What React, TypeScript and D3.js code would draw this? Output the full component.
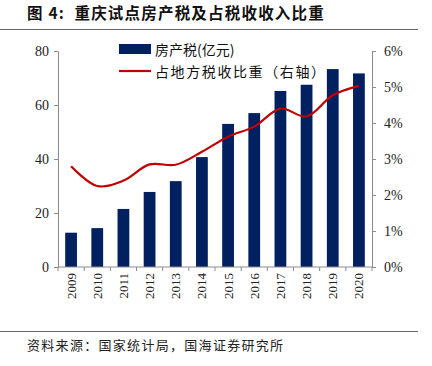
import { useEffect, useRef } from 'react';
import * as d3 from 'd3';

const years = ['2009', '2010', '2011', '2012', '2013', '2014', '2015', '2016', '2017', '2018', '2019', '2020'];
const taxValues = [12.7, 14.4, 21.5, 27.8, 31.8, 40.7, 53, 57, 65.2, 67.5, 73.3, 71.7];
const shareValues = [2.8, 2.25, 2.4, 2.85, 2.84, 3.2, 3.62, 3.9, 4.4, 4.18, 4.77, 5.03];
const leftTicks = [0, 20, 40, 60, 80];
const rightTicks = [0, 1, 2, 3, 4, 5, 6];

const W = 432;
const H = 366;
const SERIF = '"Liberation Serif", "Times New Roman", serif';
const CJK = '"Noto Sans CJK SC", sans-serif';
const AXIS = '#8c8c8c';
const BAR = '#002060';
const LINE = '#c00000';

export default function App() {
  const svgRef = useRef<SVGSVGElement>(null);

  useEffect(() => {
    document.body.style.margin = '0';
    if (!svgRef.current) return;
    const svg = d3.select(svgRef.current);
    svg.selectAll('*').remove();

    const plot = { left: 58, right: 372, top: 51, bottom: 267 };

    const x = d3.scaleBand().domain(years).range([plot.left, plot.right]).paddingInner(0.55).paddingOuter(0.275);
    const yL = d3.scaleLinear().domain([0, 80]).range([plot.bottom, plot.top]);
    const yR = d3.scaleLinear().domain([0, 6]).range([plot.bottom, plot.top]);

    // title
    svg.append('text')
      .attr('x', 27).attr('y', 19)
      .attr('font-family', CJK).attr('font-weight', 'bold').attr('font-size', 15.5)
      .attr('letter-spacing', 1.2)
      .attr('fill', '#111')
      .style('white-space', 'pre')
      .text('图 4:  重庆试点房产税及占税收收入比重');
    svg.append('line').attr('x1', 0).attr('x2', 418).attr('y1', 29.5).attr('y2', 29.5)
      .attr('stroke', '#666').attr('stroke-width', 1);

    // bars
    svg.append('g').selectAll('rect')
      .data(years)
      .join('rect')
      .attr('x', (d) => x(d) || 0)
      .attr('y', (_, i) => yL(taxValues[i]))
      .attr('width', x.bandwidth())
      .attr('height', (_, i) => plot.bottom - yL(taxValues[i]))
      .attr('fill', BAR);

    // line
    const line = d3.line<number>()
      .x((_, i) => (x(years[i]) || 0) + x.bandwidth() / 2)
      .y((d) => yR(d))
      .curve(d3.curveCatmullRom.alpha(0.5));
    svg.append('path')
      .attr('d', line(shareValues) || '')
      .attr('fill', 'none')
      .attr('stroke', LINE)
      .attr('stroke-width', 2.2);

    // left axis
    const gl = svg.append('g')
      .attr('transform', `translate(${plot.left},0)`)
      .call(d3.axisLeft(yL).tickValues(leftTicks).tickSize(4).tickSizeOuter(0).tickPadding(5));
    gl.selectAll('text').attr('font-family', SERIF).attr('font-size', 14).attr('fill', '#222');

    // right axis
    const gr = svg.append('g')
      .attr('transform', `translate(${plot.right},0)`)
      .call(d3.axisRight(yR).tickValues(rightTicks).tickSize(4).tickSizeOuter(0).tickPadding(8)
        .tickFormat((d) => `${d}%`));
    gr.selectAll('text').attr('font-family', SERIF).attr('font-size', 14).attr('fill', '#222');

    // x axis
    const gx = svg.append('g').attr('transform', `translate(0,${plot.bottom})`);
    gx.append('line').attr('x1', plot.left).attr('x2', plot.right).attr('stroke', AXIS);
    const step = x.step();
    const bounds = d3.range(years.length + 1).map((i) => (x(years[0]) || 0) - (step - x.bandwidth()) / 2 + i * step);
    gx.selectAll('line.tick')
      .data(bounds)
      .join('line')
      .attr('class', 'tick')
      .attr('x1', (d) => d).attr('x2', (d) => d)
      .attr('y1', 0).attr('y2', 4)
      .attr('stroke', AXIS);
    gx.selectAll('text')
      .data(years)
      .join('text')
      .attr('transform', (d) => `translate(${(x(d) || 0) + x.bandwidth() / 2},${6}) rotate(-90)`)
      .attr('text-anchor', 'end')
      .attr('dominant-baseline', 'central')
      .attr('font-family', SERIF)
      .attr('font-size', 13)
      .attr('fill', '#222')
      .text((d) => d);

    svg.selectAll('.domain, .tick line').attr('stroke', AXIS);

    // legend
    const lg = svg.append('g');
    lg.append('rect').attr('x', 119).attr('y', 44).attr('width', 32).attr('height', 10).attr('fill', BAR);
    lg.append('text').attr('x', 155).attr('y', 49).attr('dominant-baseline', 'central')
      .attr('font-family', CJK).attr('font-size', 14).attr('fill', '#111').text('房产税(亿元)');
    lg.append('line').attr('x1', 119).attr('x2', 151).attr('y1', 71).attr('y2', 71)
      .attr('stroke', LINE).attr('stroke-width', 2.2);
    lg.append('text').attr('x', 155).attr('y', 71).attr('dominant-baseline', 'central')
      .attr('font-family', CJK).attr('font-size', 14).attr('letter-spacing', 1.6).attr('fill', '#111')
      .text('占地方税收比重（右轴）');

    // footer
    svg.append('line').attr('x1', 0).attr('x2', 418).attr('y1', 331.5).attr('y2', 331.5)
      .attr('stroke', '#666').attr('stroke-width', 1);
    svg.append('text')
      .attr('x', 27).attr('y', 344).attr('dominant-baseline', 'central')
      .attr('font-family', CJK).attr('font-size', 13).attr('letter-spacing', 1.3)
      .attr('fill', '#222')
      .text('资料来源：国家统计局，国海证券研究所');
  }, []);

  return <svg ref={svgRef} width={W} height={H} style={{ display: 'block', background: '#fff' }} />;
}
